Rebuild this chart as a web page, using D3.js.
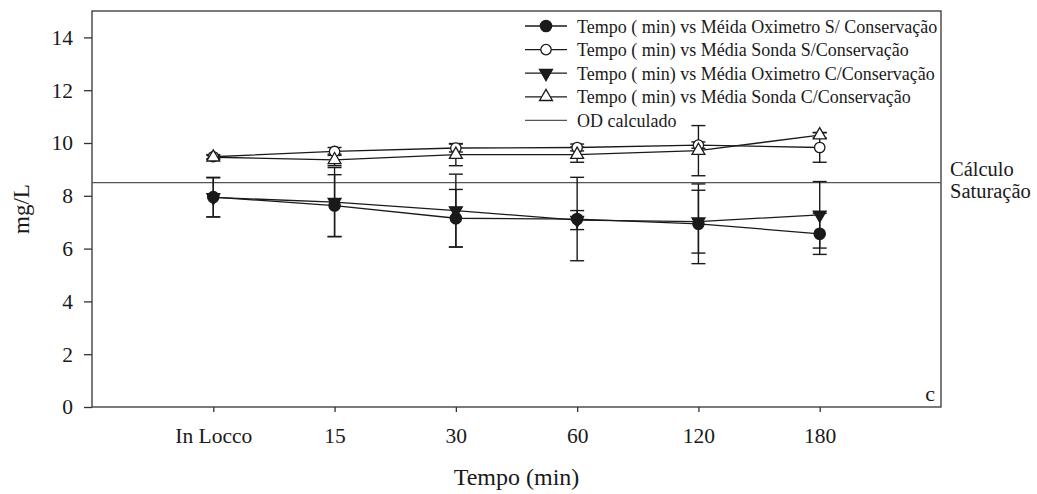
<!DOCTYPE html>
<html>
<head>
<meta charset="utf-8">
<script src="https://cdn.jsdelivr.net/npm/d3@7"></script>
<style>
  html, body { margin: 0; padding: 0; background: #fff; }
  svg { display: block; font-family: "Liberation Serif", "Times New Roman", serif; }
</style>
</head>
<body>
<svg id="chart" width="1037" height="494"></svg>
<script>
// Time points (x axis)
const categories = ["In Locco", "15", "30", "60", "120", "180"];

// Oxímetro, sem conservação (mean ± error)
const oxiSemMean = [7.95, 7.63, 7.15, 7.12, 6.94, 6.56];
const oxiSemErr  = [0.75, 1.17, 1.09, 1.58, 1.51, 0.78];

// Sonda, sem conservação
const sondaSemMean = [9.48, 9.68, 9.81, 9.83, 9.92, 9.83];
const sondaSemErr  = [0.08, 0.15, 0.15, 0.13, 0.12, 0.56];

// Oxímetro, com conservação
const oxiComMean = [7.94, 7.76, 7.44, 7.08, 7.02, 7.28];
const oxiComErr  = [0.74, 1.31, 1.38, 0.36, 1.19, 1.26];

// Sonda, com conservação
const sondaComMean = [9.46, 9.36, 9.56, 9.56, 9.71, 10.30];
const sondaComErr  = [0.08, 0.22, 0.42, 0.29, 0.95, 0.10];

// Calculated saturation DO
const odCalculado = 8.5;

const yTicks = [0, 2, 4, 6, 8, 10, 12, 14];

const legendLabels = [
  "Tempo ( min) vs Méida Oximetro S/ Conservação",
  "Tempo ( min) vs Média Sonda S/Conservação",
  "Tempo ( min) vs Média Oximetro C/Conservação",
  "Tempo ( min) vs Média Sonda C/Conservação",
  "OD calculado"
];

const svg = d3.select("#chart");
const plot = { left: 92, right: 941, top: 11, bottom: 407 };
const ink = "#1a1a1a";

const x = d3.scaleLinear().domain([0, categories.length + 1]).range([plot.left, plot.right]);
const y = d3.scaleLinear().domain([0, 15]).range([plot.bottom, plot.top]);

// Frame
svg.append("rect")
  .attr("x", plot.left).attr("y", plot.top)
  .attr("width", plot.right - plot.left).attr("height", plot.bottom - plot.top)
  .attr("fill", "none").attr("stroke", "#333").attr("stroke-width", 1.3);

// Axes
const yAxis = d3.axisLeft(y).tickValues(yTicks).tickSize(8).tickPadding(11).tickFormat(d3.format("d"));
const gy = svg.append("g").attr("transform", `translate(${plot.left},0)`).call(yAxis);
gy.select(".domain").remove();
gy.selectAll(".tick line").attr("stroke", "#333").attr("stroke-width", 1.3);
gy.selectAll(".tick text").attr("font-size", 21.5).attr("fill", ink)
  .attr("font-family", "Liberation Serif");

const xAxis = d3.axisBottom(x)
  .tickValues(categories.map((_, i) => i + 1))
  .tickSize(5)
  .tickFormat(d => categories[d - 1]);
const gx = svg.append("g").attr("transform", `translate(0,${plot.bottom})`).call(xAxis);
gx.select(".domain").remove();
gx.selectAll(".tick line").attr("stroke", "#333").attr("stroke-width", 1.3);
gx.selectAll(".tick text").attr("font-size", 21.5).attr("fill", ink)
  .attr("font-family", "Liberation Serif").attr("y", 36).attr("dy", 0);

// Axis titles
svg.append("text")
  .attr("x", (plot.left + plot.right) / 2).attr("y", 485)
  .attr("text-anchor", "middle").attr("font-size", 24).attr("fill", ink)
  .text("Tempo (min)");
svg.append("text")
  .attr("transform", `translate(29,${(plot.top + plot.bottom) / 2}) rotate(-90)`)
  .attr("text-anchor", "middle").attr("font-size", 23).attr("fill", ink)
  .text("mg/L");

// Panel letter
svg.append("text")
  .attr("x", 935).attr("y", 401).attr("text-anchor", "end")
  .attr("font-size", 22).attr("fill", ink).text("c");

// Reference line: calculated saturation
svg.append("line")
  .attr("x1", plot.left).attr("x2", plot.right)
  .attr("y1", y(odCalculado)).attr("y2", y(odCalculado))
  .attr("stroke", "#555").attr("stroke-width", 1.4);
const satLabel = svg.append("text").attr("font-size", 20.5).attr("fill", ink);
satLabel.append("tspan").attr("x", 950).attr("y", 176).text("Cálculo");
satLabel.append("tspan").attr("x", 950).attr("y", 198).text("Saturação");

// Series
const series = [
  { mean: oxiSemMean,   err: oxiSemErr,   symbol: d3.symbolCircle,   fill: ink,    size: 100, rot: 0 },
  { mean: sondaSemMean, err: sondaSemErr, symbol: d3.symbolCircle,   fill: "#fff", size: 85,  rot: 0 },
  { mean: oxiComMean,   err: oxiComErr,   symbol: d3.symbolTriangle, fill: ink,    size: 72,  rot: 180 },
  { mean: sondaComMean, err: sondaComErr, symbol: d3.symbolTriangle, fill: "#fff", size: 72,  rot: 0 }
];

const line = d3.line().x((d, i) => x(i + 1)).y(d => y(d));
const capHalf = 7;

// Connecting lines
series.forEach(s => {
  svg.append("path").datum(s.mean)
    .attr("d", line).attr("fill", "none")
    .attr("stroke", ink).attr("stroke-width", 1.3);
});

// Error bars
series.forEach(s => {
  const g = svg.append("g").attr("stroke", ink).attr("stroke-width", 1.4);
  s.mean.forEach((m, i) => {
    const cx = x(i + 1), hi = y(m + s.err[i]), lo = y(m - s.err[i]);
    g.append("line").attr("x1", cx).attr("x2", cx).attr("y1", hi).attr("y2", lo);
    g.append("line").attr("x1", cx - capHalf).attr("x2", cx + capHalf).attr("y1", hi).attr("y2", hi);
    g.append("line").attr("x1", cx - capHalf).attr("x2", cx + capHalf).attr("y1", lo).attr("y2", lo);
  });
});

// Markers
series.forEach(s => {
  const sym = d3.symbol().type(s.symbol).size(s.size);
  svg.append("g").selectAll("path").data(s.mean).join("path")
    .attr("d", sym)
    .attr("transform", (d, i) => `translate(${x(i + 1)},${y(d)}) rotate(${s.rot})`)
    .attr("fill", s.fill).attr("stroke", ink).attr("stroke-width", 1.3);
});

// Legend
const legend = svg.append("g");
const legY0 = 26, legStep = 23.6, lx1 = 525, lx2 = 567, lxm = 546, ltx = 577;
legendLabels.forEach((label, i) => {
  const ly = legY0 + i * legStep;
  const isRef = i === 4;
  legend.append("line")
    .attr("x1", lx1).attr("x2", lx2).attr("y1", ly).attr("y2", ly)
    .attr("stroke", isRef ? "#555" : ink).attr("stroke-width", 1.3);
  if (!isRef) {
    const s = series[i];
    legend.append("path")
      .attr("d", d3.symbol().type(s.symbol).size(s.size)())
      .attr("transform", `translate(${lxm},${ly}) rotate(${s.rot})`)
      .attr("fill", s.fill).attr("stroke", ink).attr("stroke-width", 1.3);
  }
  legend.append("text")
    .attr("x", ltx).attr("y", ly + 6.5)
    .attr("font-size", 18).attr("fill", ink)
    .text(label);
});
</script>
</body>
</html>
